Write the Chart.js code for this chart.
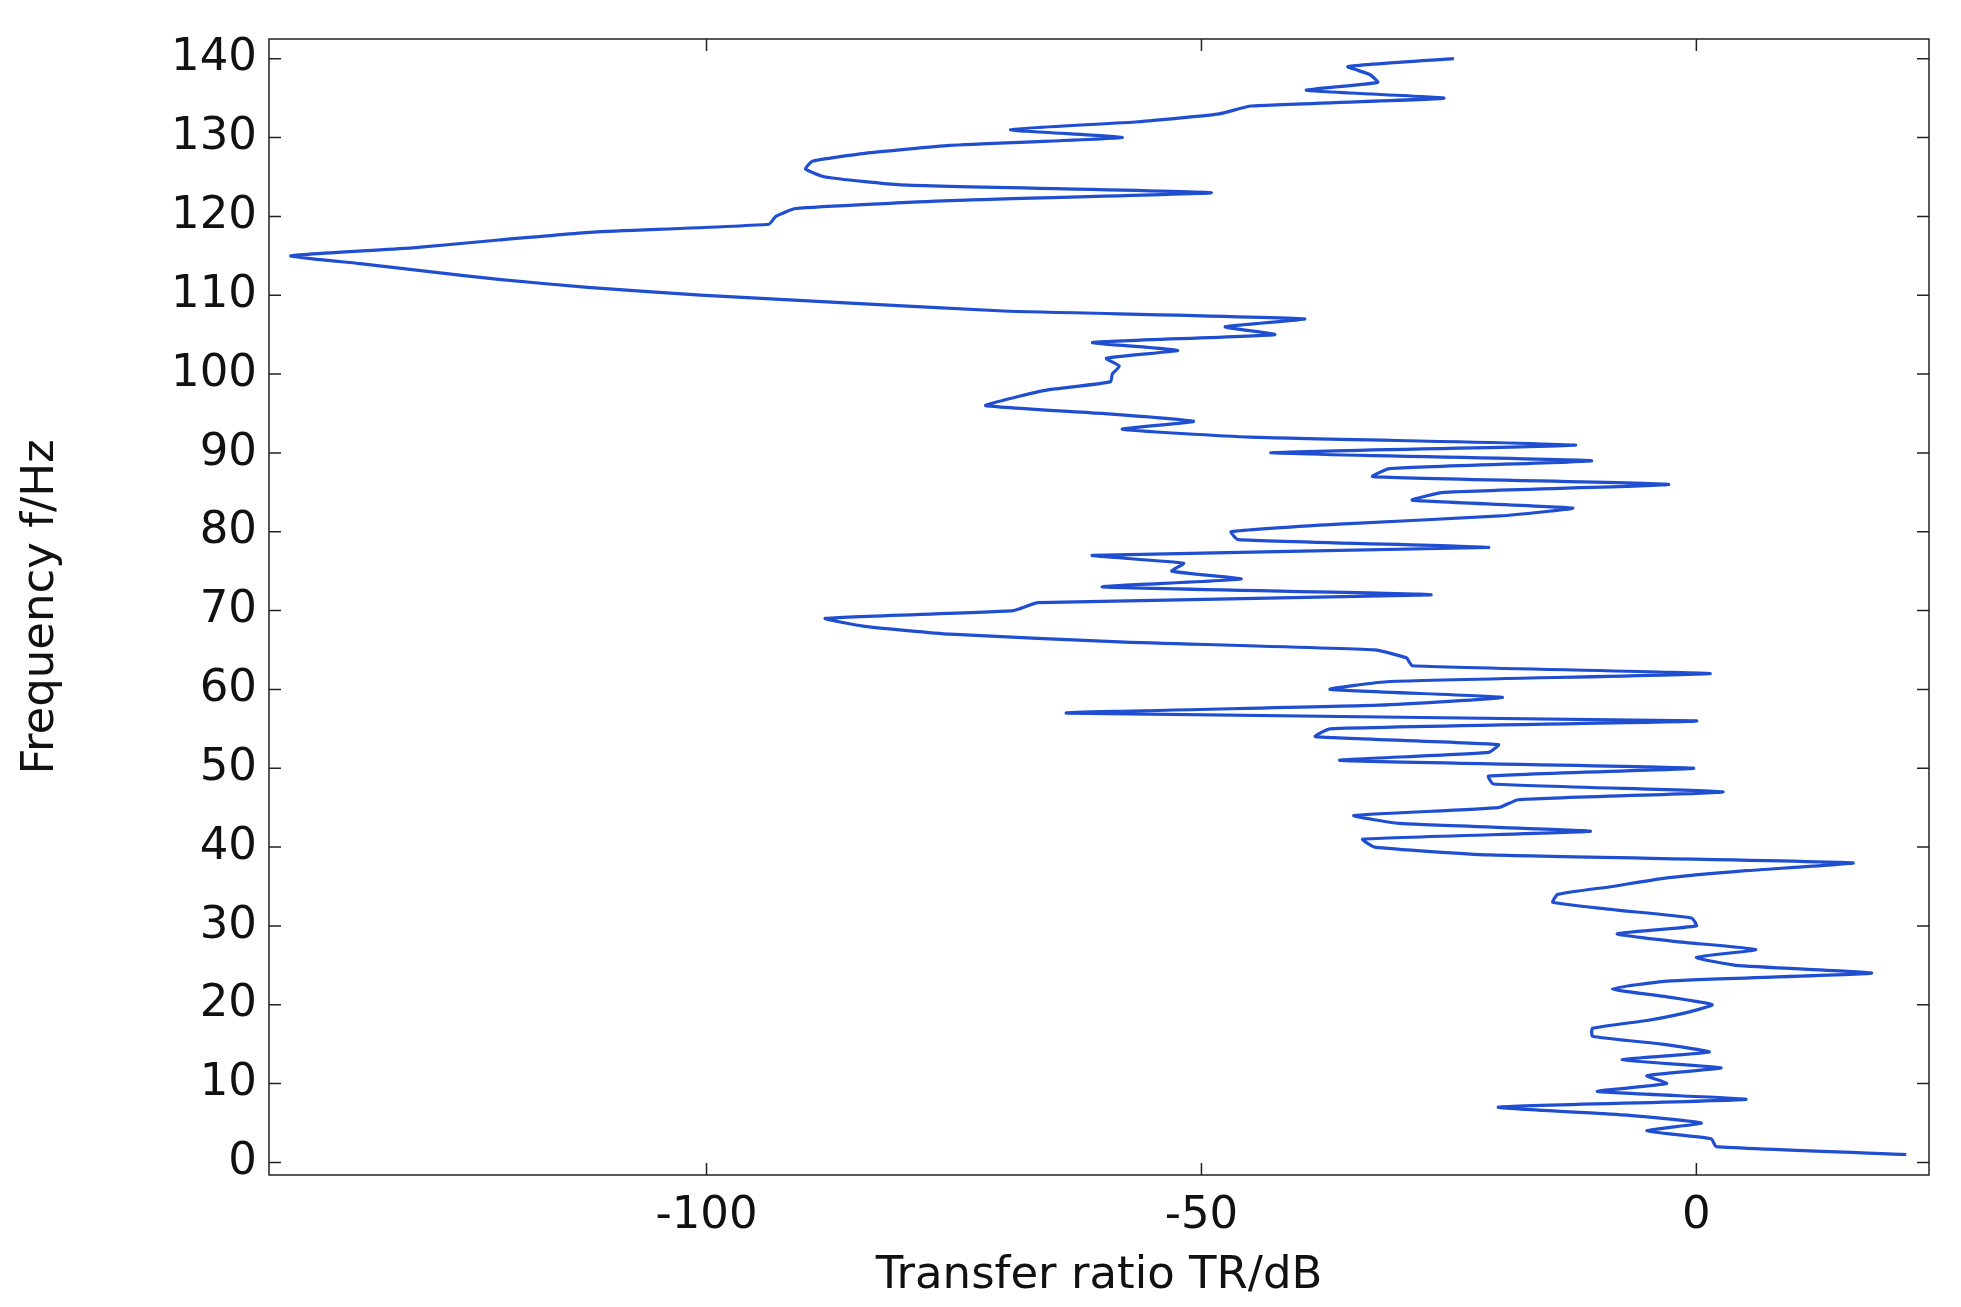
<!DOCTYPE html>
<html><head><meta charset="utf-8">
<script src="https://cdn.jsdelivr.net/npm/chart.js@4"></script>
<style>html,body{margin:0;padding:0;background:#fff}canvas{display:block}</style>
</head><body>
<div style="width:1961px;height:1307px"><canvas id="c"></canvas></div>
<script>
const frequency = [];
for (let f = 1; f <= 140; f++) frequency.push(f);
const transferRatio = [21.2,2,1.5,-5,0.5,-7,-20,5,-10,-3,-5,2.5,-7.5,1.3,-3.5,-10.5,-10.5,-5,-1,1.6,-3,-8.5,-3,17.7,4,0,6,-2,-8,0,-0.5,-8,-14.5,-14,-8.5,-3.5,5,15.8,-21,-32.5,-33.7,-10.7,-30,-34.6,-20,-18,2.7,-20.5,-21,-0.3,-36,-21,-20,-38.5,-37,0,-63.6,-32,-19.6,-37,-31,1.4,-28.7,-29.3,-32.5,-57.7,-75.4,-84,-88,-69,-66.5,-26.8,-60,-46,-53,-51.8,-61,-21,-46.3,-47,-35.6,-19.8,-12.5,-28.7,-25.5,-2.8,-32.7,-31,-10.6,-43,-12.2,-45,-58,-50.8,-60,-71.8,-69,-65.5,-59.2,-59,-58.3,-59.6,-52.4,-61,-42.6,-47.6,-39.6,-70,-85.5,-100.6,-112,-121,-128,-135,-142,-129.7,-121,-111.4,-93.7,-93,-91,-75.4,-49,-80.4,-88,-90,-89.3,-84,-75.4,-58,-69.3,-56.4,-48.2,-45,-25.5,-39.4,-32.2,-33,-35.2,-24.5];
const xTicks = [-100,-50,0];
const yTicks = [0,10,20,30,40,50,60,70,80,90,100,110,120,130,140];

const pts = frequency.map((f,i)=>({x:transferRatio[i], y:f}));
const innerTicks = {
  id:'innerTicks',
  afterDraw(chart){
    const {ctx, chartArea:a, scales:{x,y}} = chart;
    ctx.save(); ctx.strokeStyle='#222'; ctx.lineWidth=1.5;
    ctx.strokeRect(a.left,a.top,a.right-a.left,a.bottom-a.top);
    const L=12;
    ctx.beginPath();
    xTicks.forEach(v=>{const p=x.getPixelForValue(v);ctx.moveTo(p,a.bottom);ctx.lineTo(p,a.bottom-L);ctx.moveTo(p,a.top);ctx.lineTo(p,a.top+L);});
    yTicks.forEach(v=>{const p=y.getPixelForValue(v);ctx.moveTo(a.left,p);ctx.lineTo(a.left+L,p);ctx.moveTo(a.right,p);ctx.lineTo(a.right-L,p);});
    ctx.stroke(); ctx.restore();
  }
};
new Chart(document.getElementById('c'), {
  type:'scatter',
  data:{datasets:[{data:pts, showLine:true, borderColor:'#1f4fd0', borderWidth:3.2, pointRadius:0, tension:0.15, fill:false}]},
  options:{
    responsive:true, maintainAspectRatio:false, animation:false,
    layout:{padding:{top:39,right:32,left:10,bottom:0}},
    plugins:{legend:{display:false},tooltip:{enabled:false}},
    scales:{
      x:{type:'linear', min:-144.2, max:23.5,
        afterBuildTicks(s){s.ticks=xTicks.map(v=>({value:v}));},
        afterFit(s){s.height=132;},
        grid:{display:false, drawTicks:false}, border:{display:false},
        ticks:{color:'#111', font:{family:'DejaVu Sans', size:45}, padding:14},
        title:{display:true, text:'Transfer ratio TR/dB', color:'#111', font:{family:'DejaVu Sans', size:45}, padding:{top:-6}}
      },
      y:{type:'linear', min:-1.6, max:142.5,
        afterBuildTicks(s){s.ticks=yTicks.map(v=>({value:v}));},
        afterFit(s){s.width=259;},
        grid:{display:false, drawTicks:false}, border:{display:false},
        ticks:{color:'#111', font:{family:'DejaVu Sans', size:45}, padding:12},
        title:{display:true, text:'Frequency f/Hz', color:'#111', font:{family:'DejaVu Sans', size:45}, padding:{bottom:20}}
      }
    }
  },
  plugins:[innerTicks]
});
</script>
</body></html>
